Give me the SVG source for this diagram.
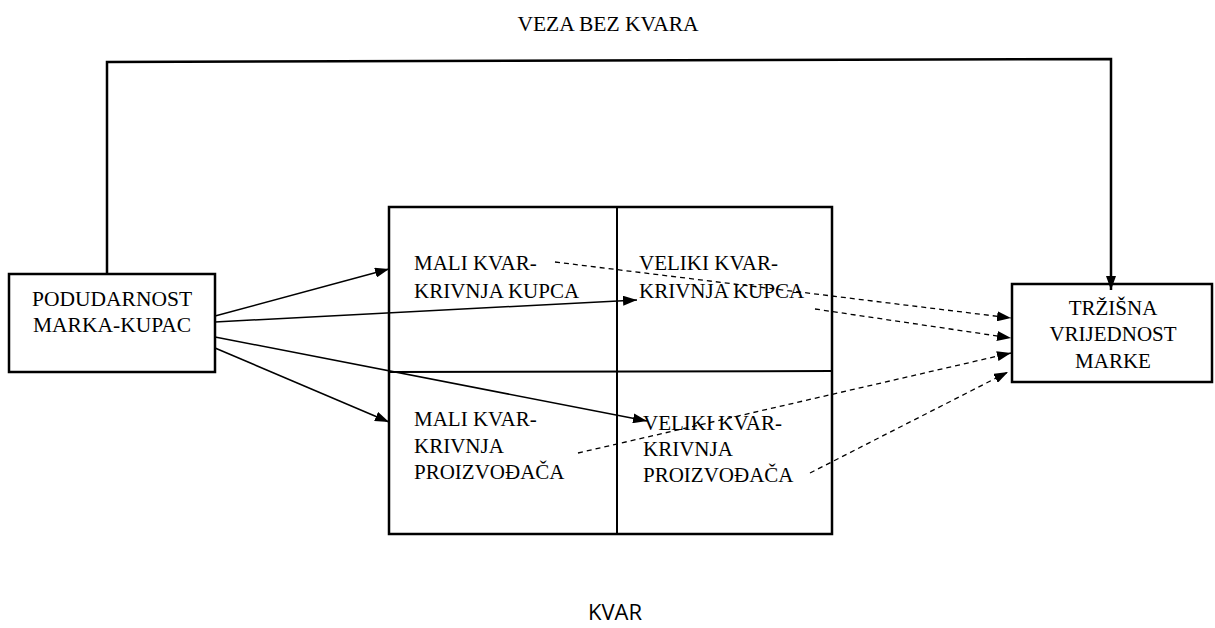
<svg xmlns="http://www.w3.org/2000/svg" width="1215" height="628" viewBox="0 0 1215 628">
  <defs>
    <marker id="arr" viewBox="0 0 14 10" refX="14" refY="5" markerWidth="14" markerHeight="10" markerUnits="userSpaceOnUse" orient="auto">
      <path d="M0,0 L14,5 L0,10 z" fill="#000"/>
    </marker>
    <style>
      .box { fill: #fff; stroke: #000; stroke-width: 2.5; }
      .grid { fill: none; stroke: #000; stroke-width: 2; }
      .tc { text-anchor: middle; }
      .t { font-family: 'Liberation Serif', 'Times New Roman', serif; font-size: 21px; fill: #000; }
      .tl { font-size: 21.5px; }
      .solid { fill: none; stroke: #000; stroke-width: 1.5; marker-end: url(#arr); }
      .dash { fill: none; stroke: #000; stroke-width: 1.3; stroke-dasharray: 5 4; marker-end: url(#arr); }
      .top { fill: none; stroke: #000; stroke-width: 2.5; marker-end: url(#arr); }
    </style>
  </defs>

  <rect width="1215" height="628" fill="#fff"/>

  <text class="t tc tl" x="608" y="31">VEZA BEZ KVARA</text>

  <g id="node-podudarnost">
    <rect class="box" x="9" y="274" width="206" height="98"/>
    <text class="t tc tl" x="112" y="306">PODUDARNOST</text>
    <text class="t tc tl" x="112" y="332">MARKA-KUPAC</text>
  </g>

  <g id="node-grid">
    <rect class="box" x="389" y="207" width="443" height="327"/>
    <line class="grid" x1="617" y1="207" x2="617" y2="534"/>
    <line class="grid" x1="389" y1="372" x2="832" y2="371"/>
  </g>

  <g id="node-mali-kupca">
    <text class="t" x="414" y="270">MALI KVAR-</text>
    <text class="t" x="414" y="298">KRIVNJA KUPCA</text>
  </g>
  <g id="node-veliki-kupca">
    <text class="t" x="639" y="270">VELIKI KVAR-</text>
    <text class="t" x="639" y="298">KRIVNJA KUPCA</text>
  </g>
  <g id="node-mali-proizvodaca">
    <text class="t" x="414" y="426">MALI KVAR-</text>
    <text class="t" x="414" y="453">KRIVNJA</text>
    <text class="t" x="414" y="479">PROIZVOĐAČA</text>
  </g>
  <g id="node-veliki-proizvodaca">
    <text class="t" x="643" y="430">VELIKI KVAR-</text>
    <text class="t" x="643" y="456">KRIVNJA</text>
    <text class="t" x="643" y="482">PROIZVOĐAČA</text>
  </g>

  <g id="node-trzisna">
    <rect class="box" x="1012" y="284" width="200" height="98"/>
    <text class="t tc" x="1113" y="315">TRŽIŠNA</text>
    <text class="t tc" x="1113" y="341">VRIJEDNOST</text>
    <text class="t tc" x="1113" y="368">MARKE</text>
  </g>

  <g id="connectors">
    <polyline class="top" points="107,274 107,62 1111,59 1111,290"/>
    <line class="solid" x1="215" y1="316" x2="389" y2="269"/>
    <line class="solid" x1="215" y1="322" x2="637" y2="300"/>
    <line class="solid" x1="215" y1="337" x2="647" y2="421"/>
    <line class="solid" x1="215" y1="348" x2="389" y2="422"/>
    <line class="dash" x1="555" y1="262" x2="1011" y2="318"/>
    <line class="dash" x1="815" y1="309" x2="1011" y2="338"/>
    <line class="dash" x1="578" y1="453" x2="1011" y2="353"/>
    <line class="dash" x1="810" y1="473" x2="1008" y2="372"/>
  </g>

  <text x="615" y="620" text-anchor="middle" style="font-family:'Open Sans','Liberation Sans',sans-serif;font-size:22px;fill:#000">KVAR</text>
</svg>
